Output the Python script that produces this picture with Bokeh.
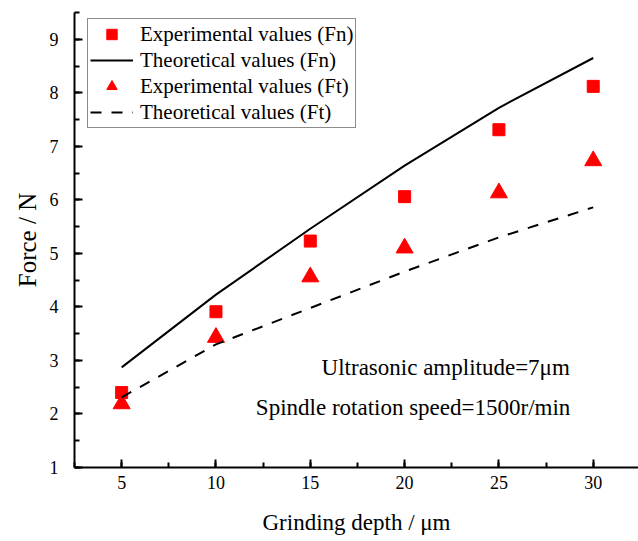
from bokeh.plotting import figure
from bokeh.models import (Range1d, SingleIntervalTicker, Legend, LegendItem, Label)
from bokeh.embed import file_html
from bokeh.resources import INLINE

# Grinding depth (um)
depth = [5, 10, 15, 20, 25, 30]

# Normal force Fn (N)
fn_exp = [2.40, 3.91, 5.23, 6.06, 7.31, 8.12]
fn_theory = [2.87, 4.23, 5.46, 6.64, 7.72, 8.65]

# Tangential force Ft (N)
ft_exp = [2.19, 3.43, 4.56, 5.10, 6.13, 6.73]
ft_theory = [2.31, 3.30, 3.98, 4.66, 5.30, 5.86]

x_ticks = [5, 10, 15, 20, 25, 30]
y_ticks = [1, 2, 3, 4, 5, 6, 7, 8, 9]

FONT = "Liberation Serif"
RED = "#FF0000"

p = figure(width=638, height=541, output_backend="svg", toolbar_location=None,
           x_range=Range1d(2.5, 32.4), y_range=Range1d(1, 9.5),
           min_border_left=74, min_border_right=0, min_border_top=12,
           min_border_bottom=74)
p.outline_line_color = None
p.xgrid.visible = False
p.ygrid.visible = False
p.background_fill_color = "white"

p.xaxis.ticker = SingleIntervalTicker(interval=5, num_minor_ticks=2)
p.yaxis.ticker = SingleIntervalTicker(interval=1, num_minor_ticks=2)

for ax in (p.xaxis, p.yaxis):
    ax.axis_line_width = 2
    ax.axis_line_color = "black"
    ax.major_tick_line_width = 2
    ax.minor_tick_line_width = 2
    ax.major_tick_in = 8
    ax.major_tick_out = 0
    ax.minor_tick_in = 5
    ax.minor_tick_out = 0
    ax.major_label_text_font = FONT
    ax.major_label_text_font_size = "18px"
    ax.major_label_text_color = "black"
    ax.axis_label_text_font = FONT
    ax.axis_label_text_font_style = "normal"
    ax.axis_label_text_color = "black"

p.xaxis.major_label_standoff = 8
p.yaxis.major_label_standoff = 16
p.xaxis.axis_label = "Grinding depth / μm"
p.yaxis.axis_label = "Force / N"
p.xaxis.axis_label_text_font_size = "23px"
p.yaxis.axis_label_text_font_size = "25px"
p.xaxis.axis_label_standoff = 18
p.yaxis.axis_label_standoff = 6

r_fn_exp = p.scatter(depth, fn_exp, marker="square", size=12, color=RED)
r_fn_th = p.line(depth, fn_theory, line_color="black", line_width=2)
r_ft_exp = p.scatter(depth, ft_exp, marker="triangle", size=17, color=RED)
r_ft_th = p.line(depth, ft_theory, line_color="black", line_width=2,
                 line_dash="11 10")

legend = Legend(items=[
    LegendItem(label="Experimental values (Fn)", renderers=[r_fn_exp]),
    LegendItem(label="Theoretical values (Fn)", renderers=[r_fn_th]),
    LegendItem(label="Experimental values (Ft)", renderers=[r_ft_exp]),
    LegendItem(label="Theoretical values (Ft)", renderers=[r_ft_th]),
], location=(13, 339))
legend.label_text_font = FONT
legend.label_text_font_size = "21px"
legend.label_text_color = "black"
legend.glyph_width = 43
legend.glyph_height = 26
legend.label_height = 26
legend.spacing = 0
legend.padding = 2
legend.margin = 0
legend.label_standoff = 7
legend.border_line_color = "#8c8c8c"
legend.border_line_width = 1.2
legend.border_line_alpha = 1
legend.background_fill_color = "white"
legend.background_fill_alpha = 1
p.add_layout(legend, "center")

notes = [("Ultrasonic amplitude=7μm", 22.18, 2.866),
         ("Spindle rotation speed=1500r/min", 20.45, 2.12)]
for txt, nx, ny in notes:
    p.add_layout(Label(x=nx, y=ny, text=txt, text_align="center",
                       text_baseline="alphabetic", text_font=FONT,
                       text_font_size="23px", text_color="black"))

open("out.html", "w").write(file_html(p, INLINE))
